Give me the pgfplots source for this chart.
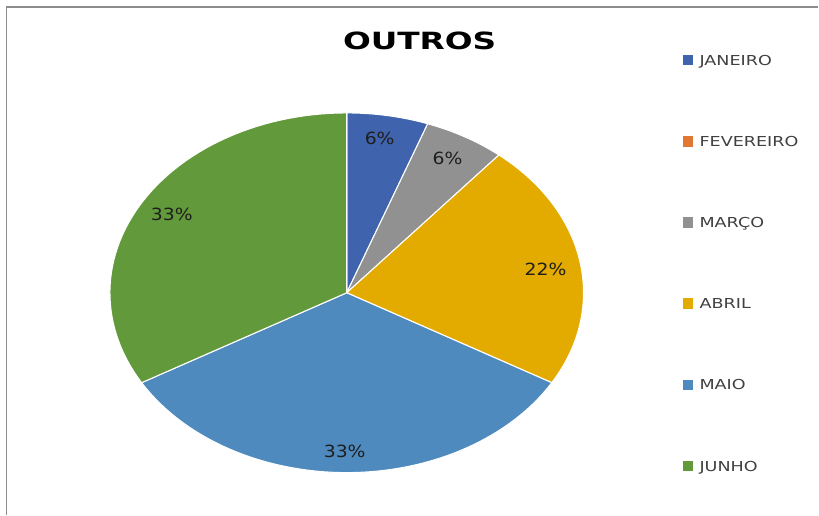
\documentclass[border=0pt]{standalone}
\usepackage{fontspec}
\setmainfont{DejaVu Sans}
\usepackage{graphicx}
\usepackage{pgfplots}
\usepackage{pgfplotstable}
\pgfplotsset{compat=1.18}
\definecolor{cJan}{RGB}{63,99,173}
\definecolor{cFev}{RGB}{224,120,50}
\definecolor{cMar}{RGB}{145,145,145}
\definecolor{cAbr}{RGB}{227,170,0}
\definecolor{cMai}{RGB}{78,138,190}
\definecolor{cJun}{RGB}{98,153,58}
\definecolor{labcol}{RGB}{30,30,30}
\definecolor{legcol}{RGB}{64,64,64}
\definecolor{framecol}{RGB}{140,140,140}

\pgfplotstableread{
mes valor
JANEIRO 1
FEVEREIRO 0
MARCO 1
ABRIL 4
MAIO 6
JUNHO 6
}\dados

\pgfplotstablegetelem{0}{valor}\of\dados \let\vA\pgfplotsretval
\pgfplotstablegetelem{1}{valor}\of\dados \let\vB\pgfplotsretval
\pgfplotstablegetelem{2}{valor}\of\dados \let\vC\pgfplotsretval
\pgfplotstablegetelem{3}{valor}\of\dados \let\vD\pgfplotsretval
\pgfplotstablegetelem{4}{valor}\of\dados \let\vE\pgfplotsretval
\pgfplotstablegetelem{5}{valor}\of\dados \let\vF\pgfplotsretval
\pgfmathsetmacro\tot{\vA+\vB+\vC+\vD+\vE+\vF}
\pgfmathsetmacro\aA{90}
\pgfmathsetmacro\aB{\aA-360*\vA/\tot}
\pgfmathsetmacro\aC{\aB-360*\vB/\tot}
\pgfmathsetmacro\aD{\aC-360*\vC/\tot}
\pgfmathsetmacro\aE{\aD-360*\vD/\tot}
\pgfmathsetmacro\aF{\aE-360*\vE/\tot}
\pgfmathsetmacro\aG{\aF-360*\vF/\tot}
\pgfmathtruncatemacro\pA{round(100*\vA/\tot)}
\pgfmathtruncatemacro\pC{round(100*\vC/\tot)}
\pgfmathtruncatemacro\pD{round(100*\vD/\tot)}
\pgfmathtruncatemacro\pE{round(100*\vE/\tot)}
\pgfmathtruncatemacro\pF{round(100*\vF/\tot)}

\newcommand\sx[2]{\scalebox{#1}[1]{#2}}
\newcommand\lab[1]{{\fontsize{12.6}{14}\selectfont\sx{1.12}{#1}}}
\newcommand\slice[3]{%
  \addplot[fill=#3, draw=white, line width=0.8pt, domain=#2:#1, samples=60,
    variable=\t, forget plot, mark=none]
    ({347+237*cos(\t)},{222+180*sin(\t)}) -- (axis cs:347,222) -- cycle;}

\begin{document}
\begin{tikzpicture}
\begin{axis}[
  scale only axis, width=614.25pt, height=386.25pt,
  xmin=0, xmax=819, ymin=0, ymax=515,
  hide axis, clip=false,
  legend image code/.code={\fill[#1, draw=none] (0pt,0pt) rectangle (7.8pt,7.8pt);},
  legend style={at={(0.834,0.893)}, anchor=north west, draw=none, fill=none,
    inner sep=0pt, outer sep=0pt, column sep=5pt, row sep=53.1pt,
    nodes={inner sep=0pt, text height=7.8pt, text depth=0pt, anchor=base west,
      font=\fontsize{10.3}{12}\selectfont, text=legcol}},
]
\addplot[draw=none, forget plot] coordinates {(0,0) (819,515)};
\addplot[color=framecol, line width=1pt, forget plot, mark=none]
  coordinates {(6.5,0) (6.5,508) (819,508)};

\slice{\aA}{\aB}{cJan}
\slice{\aC}{\aD}{cMar}
\slice{\aD}{\aE}{cAbr}
\slice{\aE}{\aF}{cMai}
\slice{\aF}{\aG}{cJun}

\addlegendimage{fill=cJan}\addlegendentry{\sx{1.28}{JANEIRO}}
\addlegendimage{fill=cFev}\addlegendentry{\sx{1.28}{FEVEREIRO}}
\addlegendimage{fill=cMar}\addlegendentry{\sx{1.28}{MARÇO}}
\addlegendimage{fill=cAbr}\addlegendentry{\sx{1.28}{ABRIL}}
\addlegendimage{fill=cMai}\addlegendentry{\sx{1.28}{MAIO}}
\addlegendimage{fill=cJun}\addlegendentry{\sx{1.28}{JUNHO}}

\node[text=labcol] at (axis cs:380,377) {\lab{\pA\%}};
\node[text=labcol] at (axis cs:448,356) {\lab{\pC\%}};
\node[text=labcol] at (axis cs:546,245) {\lab{\pD\%}};
\node[text=labcol] at (axis cs:345,63) {\lab{\pE\%}};
\node[text=labcol] at (axis cs:172,300) {\lab{\pF\%}};
\node[text=black] at (axis cs:420,474) {\fontsize{17.8}{20}\selectfont\bfseries\sx{1.38}{OUTROS}};
\end{axis}
\end{tikzpicture}
\end{document}
